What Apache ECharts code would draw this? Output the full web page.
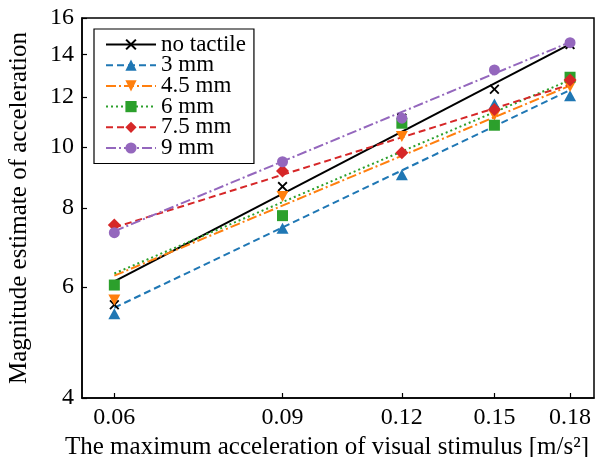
<!DOCTYPE html>
<html>
<head>
<meta charset="utf-8">
<script src="https://cdn.jsdelivr.net/npm/echarts@6/dist/echarts.min.js"></script>
<style>html,body{margin:0;background:#fff}</style>
</head>
<body>
<div id="chart" style="width:600px;height:457px"></div>
<script>
// measured points (x: max acceleration of the visual stimulus)
const accel = [0.06, 0.09, 0.12, 0.15, 0.18]
const yTicks = [4, 6, 8, 10, 12, 14, 16]
const names = ['no tactile', '3 mm', '4.5 mm', '6 mm', '7.5 mm', '9 mm']

const noTactile = [5.62, 8.65, 11.1, 12.34, 14.52]
const mm3 = [5.44, 7.43, 9.03, 11.69, 12.05]
const mm45 = [5.72, 8.34, 10.38, 11.22, 12.46]
const mm6 = [6.04, 7.78, 10.9, 10.82, 12.89]
const mm75 = [7.52, 9.16, 9.79, 11.46, 12.76]
const mm9 = [7.31, 9.47, 11.1, 13.24, 14.62]

// fitted power lines, value at 0.06 and at 0.18
const fitRange = [0.06, 0.18]
const fitStart = [6.12, 5.56, 6.25, 6.3, 7.45, 7.35]
const fitEnd = [14.55, 12.3, 12.5, 12.76, 12.55, 14.65]

const points = [noTactile, mm3, mm45, mm6, mm75, mm9]

const colors = ['#000000', '#1f77b4', '#ff7f0e', '#2ca02c', '#d62728', '#9467bd']
const dashes = ['solid', [7, 4], [10, 3, 2, 3], [2, 3], [7, 4], [10, 3, 2, 3]]
const symbols = [
  'path://M0,1.3L1.3,0L5,3.7L8.7,0L10,1.3L6.3,5L10,8.7L8.7,10L5,6.3L1.3,10L0,8.7L3.7,5Z',
  'triangle',
  'path://M0,0L10,0L5,8.7Z',
  'rect',
  'diamond',
  'circle',
]
const symbolSizes = [10, [12, 11], [12, 11], 11, 13, 11]

const font = '"Liberation Serif", serif'

const series = []
names.forEach((name, i) => {
  series.push({
    name,
    type: 'line',
    data: [[fitRange[0], fitStart[i]], [fitRange[1], fitEnd[i]]],
    symbol: symbols[i],
    showSymbol: false,
    lineStyle: { color: colors[i], width: 2, type: dashes[i] },
    itemStyle: { color: colors[i] },
    silent: true,
    z: 2,
  })
})
names.forEach((name, i) => {
  series.push({
    name,
    type: 'scatter',
    data: accel.map((x, k) => [x, points[i][k]]),
    symbol: symbols[i],
    symbolSize: symbolSizes[i],
    itemStyle: { color: colors[i], opacity: 1 },
    z: 3,
  })
})

const chart = echarts.init(document.getElementById('chart'))

chart.setOption({
  animation: false,
  backgroundColor: '#fff',
  grid: {
    left: 82,
    right: 6,
    top: 18,
    bottom: 59,
    show: true,
    borderColor: '#000',
    borderWidth: 1.5,
    outerBoundsMode: 'none',
  },
  legend: {
    data: names,
    orient: 'vertical',
    left: 94,
    top: 29,
    padding: [4, 8, 4, 11],
    itemWidth: 50,
    itemHeight: 14,
    itemGap: -2.3,
    borderColor: '#000',
    borderWidth: 1.2,
    borderRadius: 0,
    backgroundColor: '#fff',
    textStyle: {
      fontFamily: font,
      fontSize: 23,
      color: '#000',
    },
  },
  xAxis: {
    type: 'log',
    min: 0.0555,
    max: 0.1907,
    name: 'The maximum acceleration of visual stimulus [m/s²]',
    nameLocation: 'middle',
    nameGap: 30,
    nameTextStyle: {
      fontFamily: font,
      fontSize: 25,
      color: '#000',
      padding: [0, 22, 0, 0],
    },
    axisLine: { lineStyle: { color: '#000', width: 1.5 } },
    axisTick: { inside: true, length: 5, customValues: accel, lineStyle: { color: '#000', width: 1.2 } },
    minorTick: { show: false },
    axisLabel: {
      customValues: accel,
      margin: 8,
      fontFamily: font,
      fontSize: 24,
      color: '#000',
      formatter: v => v.toFixed(2),
    },
    splitLine: { show: false },
  },
  yAxis: {
    type: 'log',
    min: 4,
    max: 16,
    name: 'Magnitude estimate of acceleration',
    nameLocation: 'middle',
    nameGap: 50,
    nameTextStyle: {
      fontFamily: font,
      fontSize: 25,
      color: '#000',
    },
    axisLine: { show: true, lineStyle: { color: '#000', width: 1.5 } },
    axisTick: { show: true, inside: true, length: 5, customValues: yTicks, lineStyle: { color: '#000', width: 1.2 } },
    minorTick: { show: false },
    axisLabel: {
      customValues: yTicks,
      margin: 8,
      fontFamily: font,
      fontSize: 24,
      color: '#000',
      formatter: v => String(Math.round(v)),
    },
    splitLine: { show: false },
  },
  series,
})
</script>
</body>
</html>
